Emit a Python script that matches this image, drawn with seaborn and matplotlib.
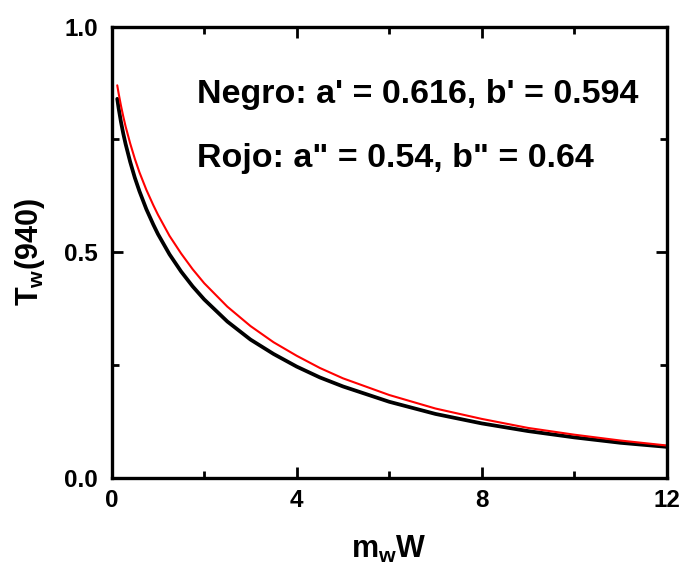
import matplotlib
matplotlib.use('Agg')
import matplotlib.pyplot as plt
import seaborn as sns
import pandas as pd
from matplotlib.ticker import MultipleLocator

# values
mw_w = [0.12, 0.15, 0.2, 0.25, 0.3, 0.4, 0.5, 0.6, 0.75, 0.9, 1, 1.25, 1.5, 1.75,
        2, 2.5, 3, 3.5, 4, 4.5, 5, 6, 7, 8, 9, 10, 11, 12]
t_negro = [0.840, 0.819, 0.789, 0.763, 0.740, 0.700, 0.665, 0.635, 0.595, 0.561,
           0.540, 0.495, 0.457, 0.424, 0.395, 0.346, 0.306, 0.274, 0.246, 0.222,
           0.202, 0.168, 0.141, 0.120, 0.103, 0.089, 0.077, 0.068]
t_rojo = [0.870, 0.852, 0.825, 0.801, 0.779, 0.741, 0.707, 0.677, 0.638, 0.604,
          0.583, 0.536, 0.497, 0.462, 0.431, 0.379, 0.336, 0.300, 0.270, 0.243,
          0.220, 0.183, 0.153, 0.130, 0.110, 0.095, 0.082, 0.071]
text_negro = "Negro: a' = 0.616, b' = 0.594"
text_rojo = 'Rojo: a" = 0.54, b" = 0.64'

df = pd.DataFrame({'mW': mw_w, 'negro': t_negro, 'rojo': t_rojo})

sns.set_style('ticks')
plt.rcParams['font.family'] = ['Liberation Sans', 'DejaVu Sans']
plt.rcParams['font.weight'] = 'bold'
plt.rcParams['axes.labelweight'] = 'bold'
plt.rcParams['text.color'] = 'black'
plt.rcParams['axes.labelcolor'] = 'black'
plt.rcParams['axes.edgecolor'] = 'black'
plt.rcParams['xtick.color'] = 'black'
plt.rcParams['ytick.color'] = 'black'
plt.rcParams['mathtext.fontset'] = 'custom'
plt.rcParams['mathtext.bf'] = 'Liberation Sans:bold'
plt.rcParams['mathtext.rm'] = 'Liberation Sans:bold'

fig = plt.figure(figsize=(6.79, 5.72), dpi=100)
ax = fig.add_axes([0.1645, 0.1652, 0.8175, 0.7881])

sns.lineplot(data=df, x='mW', y='negro', color='black', linewidth=2.7, ax=ax)
sns.lineplot(data=df, x='mW', y='rojo', color='red', linewidth=1.5, ax=ax)

ax.set_xlim(0, 12)
ax.set_ylim(0, 1.0)
ax.xaxis.set_major_locator(MultipleLocator(4))
ax.xaxis.set_minor_locator(MultipleLocator(2))
ax.yaxis.set_major_locator(MultipleLocator(0.5))
ax.yaxis.set_minor_locator(MultipleLocator(0.25))
ax.xaxis.set_major_formatter(lambda v, p: f'{v:.0f}')
ax.yaxis.set_major_formatter(lambda v, p: f'{v:.1f}')

ax.tick_params(which='both', direction='in', top=True, right=True, width=2.0)
ax.tick_params(which='major', length=8, labelsize=17.5)
ax.tick_params(which='minor', length=5)
ax.tick_params(axis='x', which='major', pad=8)
ax.tick_params(axis='y', which='major', pad=10)
for s in ax.spines.values():
    s.set_linewidth(2.4)
for lab in ax.get_xticklabels() + ax.get_yticklabels():
    lab.set_fontweight('bold')

ax.set_xlabel(r'm$_\mathbf{w}$W', fontsize=22, fontweight='bold', labelpad=16)
ax.set_ylabel(r'T$_\mathbf{w}$(940)', fontsize=22, fontweight='bold', labelpad=12)

ax.text(1.84, 0.831, text_negro, fontsize=24.5, fontweight='bold', ha='left', va='baseline')
ax.text(1.84, 0.689, text_rojo, fontsize=24.5, fontweight='bold', ha='left', va='baseline')

fig.savefig('out.png', dpi=100)
